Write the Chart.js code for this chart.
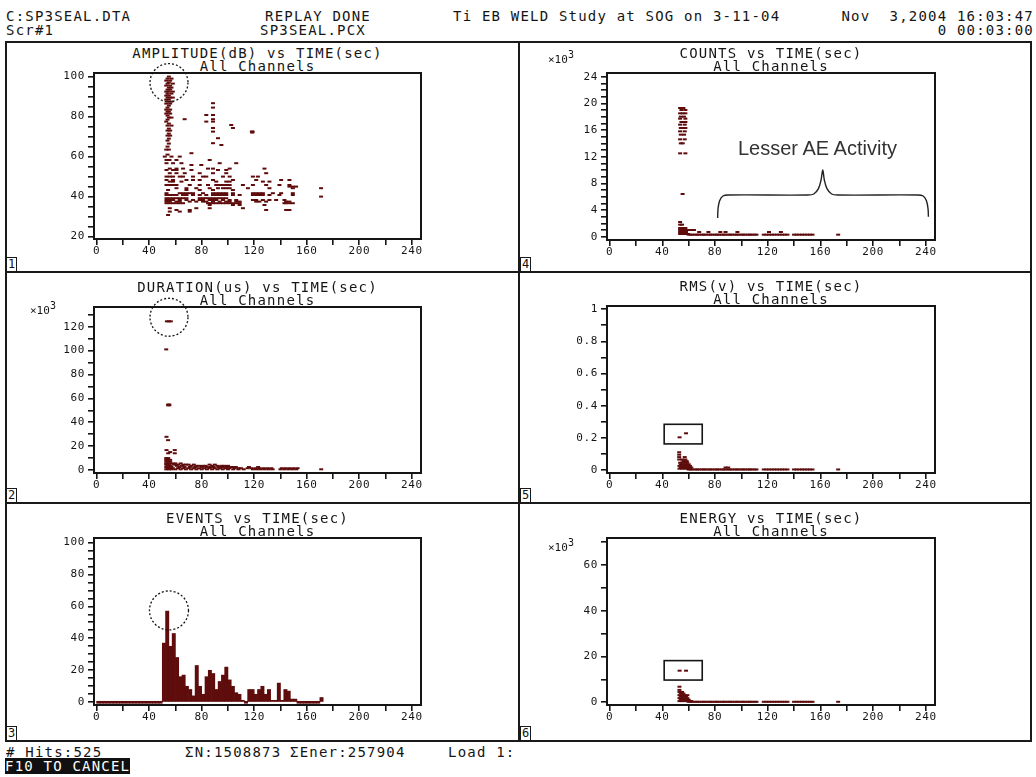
<!DOCTYPE html>
<html>
<head>
<meta charset="utf-8">
<script src="https://cdn.jsdelivr.net/npm/chart.js@4.4.1/dist/chart.umd.min.js"></script>
<style>
html, body { margin: 0; padding: 0; background: #fff; }
body { width: 1036px; height: 777px; position: relative; overflow: hidden; font-family: 'DejaVu Sans Mono', monospace; color: #151515; }
.t { position: absolute; font-size: 14px; line-height: 14px; letter-spacing: 1.2px; white-space: pre; }
.c { text-align: center; }
.r { text-align: right; }
canvas { position: absolute; left: 0; top: 0; }
.ln { position: absolute; background: #1a1a1a; }
.num { position: absolute; width: 9px; height: 13px; border: 1px solid #1a1a1a; font-size: 12px; line-height: 13px; text-align: center; background: #fff; }
.exp { position: absolute; font-size: 11px; line-height: 11px; white-space: pre; }
.exp sup { font-size: 10px; vertical-align: 5px; }
.ae { position: absolute; font-family: 'Liberation Sans', Arial, sans-serif; font-size: 20px; color: #333; white-space: pre; }
.f10 { background: #111; color: #fff; }
</style>
</head>
<body>
<div class="t" style="left:6px;top:9px">C:SP3SEAL.DTA</div>
<div class="t" style="left:265px;top:9px">REPLAY DONE</div>
<div class="t" style="left:453px;top:9px">Ti EB WELD Study at SOG on 3-11-04</div>
<div class="t r" style="right:2px;top:9px">Nov  3,2004 16:03:47</div>
<div class="t" style="left:6px;top:23px">Scr#1</div>
<div class="t" style="left:260px;top:23px">SP3SEAL.PCX</div>
<div class="t r" style="right:2px;top:23px">0 00:03:00</div>

<div class="t" style="left:6px;top:745px"># Hits:525</div>
<div class="t" style="left:185px;top:745px">ΣN:1508873</div>
<div class="t" style="left:290px;top:745px">ΣEner:257904</div>
<div class="t" style="left:448px;top:745px">Load 1:</div>
<div class="t" style="left:5px;top:759px"><span class="f10">F10 TO CANCEL</span></div>

<script>
// time axis (sec), shared by all six panels
const xTicks = [0, 20, 40, 60, 80, 100, 120, 140, 160, 180, 200, 220, 240];
const xLabels = [0, 40, 80, 120, 160, 200, 240];

// AMPLITUDE(dB): [dB, [times]]
const ampRows = [
  [100, [55]], [99, [54, 57]], [98, [53, 56]], [97, [55]], [96.5, [54, 58]], [95.5, [53, 56]],
  [94.5, [55, 57]], [93.5, [54, 56]], [92.5, [53, 55, 58]], [91.5, [54, 57]], [90.5, [53, 55]],
  [89.5, [54, 56, 58]], [88.5, [53, 55]], [87.5, [54, 57]], [86.7, [88.6]], [86.5, [53, 56]],
  [85.5, [55]], [84.5, [54, 88.6]], [83.5, [53, 56]], [82.5, [54, 55]], [81.5, [53, 56]],
  [80.8, [83.5, 88.6]], [80.5, [54]], [79.5, [55, 57]], [78.7, [67, 88.6]], [78.5, [54]],
  [77.5, [53, 83.5, 88.6]], [76.5, [55]], [75.8, [102.5]], [75.5, [54, 57]], [74.3, [88.6, 103.8]],
  [74, [55]], [73, [54, 56]], [72.5, [88.6, 118.2, 118.8]], [72, [118.5]], [71.5, [55]], [70.5, [54, 56]],
  [69.2, [92.4]], [69, [55]], [68, [54]], [66.7, [88.6]], [66.5, [55]], [65.8, [95]], [65, [54]],
  [63.5, [53, 55]], [61.7, [72.2]], [61, [54]],
  [60, [51.9, 57, 63.3]], [58.3, [53.2, 55.5, 60.8, 86.1]], [56.7, [53.2, 58.2, 64.6, 93.7, 106.3]],
  [55.8, [72.2, 79.7]], [54, [55.7, 60.8, 65.8, 84.8, 88.6, 101.3, 127.8]],
  [53.3, [53.2, 58.2, 60.8, 72.2, 92.4, 98.7]], [51.7, [55.7, 60.8, 67.1, 78.5, 88.6, 98.7, 129.1]],
  [50, [53.2, 55.7, 58.2, 63.3, 65.8, 73.4, 81, 83.5, 96.2, 101.3, 119, 122.8]],
  [48.3, [53.2, 58.2, 68.4, 73.4, 78.5, 88.6, 103.8, 121.5, 140.5, 146.8]],
  [47.5, [55.7, 58.2, 64.6, 91.1, 98.7, 101.3, 126.6, 131.6]],
  [45.8, [53.2, 55.7, 58.2, 60.8, 70.9, 78.5, 84.8, 91.1, 93.7, 96.2, 98.7, 101.3, 111.4, 119, 129.1, 139.2, 146.8]],
  [45, [146.8, 149.4, 151.9]],
  [44.2, [60.8, 68.4, 75.9, 86.1, 92.4, 96.2, 98.7, 101.3, 115.2, 131.6, 149.4, 170.9]],
  [43.3, [54.4, 68.4, 78.5, 88.6, 103.8]],
  [41.7, [53.2, 63.3, 65.8, 68.4, 70.9, 73.4, 81, 88.6, 91.1, 93.7, 96.2, 98.7, 103.8, 119, 121.5, 124, 126.6, 134.2, 140.5, 149.4]],
  [40.8, [53.2, 55.7, 58.2, 60.8, 65.8, 68.4, 73.4, 78.5, 83.5, 88.6, 91.1, 93.7, 96.2, 98.7, 103.8, 108.9, 119, 121.5, 124, 126.6, 131.6, 139.2, 149.4]],
  [40, [170.9]],
  [39.2, [53.2, 55.7, 58.2, 60.8, 63.3, 65.8, 68.4, 78.5, 81, 83.5, 86.1, 88.6, 91.1, 93.7, 96.2, 98.7]],
  [38.3, [53.2, 55.7, 58.2, 63.3, 68.4, 73.4, 78.5, 81, 86.1, 88.6, 91.1, 96.2, 101.3, 106.3, 119, 121.5, 126.6, 131.6, 136.7, 143]],
  [37.5, [53.2, 55.7, 60.8, 63.3, 70.9, 75.9, 81, 83.5, 88.6, 93.7, 98.7, 101.3, 106.3, 108.9, 121.5, 124, 129.1, 144.3, 146.8]],
  [36.7, [53.2, 55.7, 58.2, 60.8, 63.3, 65.8, 84.8, 86.1, 88.6, 91.1, 93.7, 96.2, 98.7, 101.3, 103.8, 106.3, 108.9, 143, 144.3, 146.8, 149.4]],
  [35.8, [86.1, 103.8, 108.9, 127.8]],
  [34.2, [55.7, 75.9, 86.1, 111.4]],
  [33.3, [60.8, 70.9, 129.1, 144.3, 146.8]],
  [32.5, [55.7, 63.3, 70.9]],
  [30.8, [54.4]]
];

// low-level hits after the burst (sec), seen in COUNTS, RMS and ENERGY
const tailTimes = [60, 61.5, 63, 65, 66.5, 68, 70, 71.5, 73, 75, 76.5, 78, 80, 81.5, 83, 85, 86.5, 88, 90, 91.5,
  93, 95, 96.5, 98, 100, 101.5, 103, 105, 106.5, 108, 110, 111.5, 117, 119, 121, 123, 125, 127, 129, 131,
  133, 135, 140, 142, 144, 146, 148, 150, 152, 154, 173.5];

// COUNTS (x10^3)
const cntRows = [
  [19.3, [53.5, 56]], [19, [54.5, 57.5]], [18.5, [53.5, 55.5, 57.5]], [18, [54, 56.5]],
  [17.7, [53.5, 57.5]], [17.2, [54.5, 56, 57.5]], [16.8, [53.5, 57]], [16.3, [54, 56, 57.5]],
  [15.8, [53.5, 57]], [15.3, [54, 56.5]], [14.6, [53.5, 57]], [14, [54, 55.5]],
  [12.5, [53.5, 57.5]], [6.4, [55.4]],
  [2.2, [53.5]], [1.8, [53.5, 55]], [1.3, [53.5, 56, 57.5]], [1, [53.5, 55, 57, 58.5, 61, 64]],
  [0.7, [53.5, 55, 56.5, 58, 68, 75, 84, 88, 97, 121, 130]], [0.4, [53.5, 55, 56.5, 58, 59.5]]
];
const cntTail = 0.3;

// DURATION (x10^3 us)
const durRows = [
  [124.5, [53.5, 55, 56.5]], [101, [53]], [54.8, [54.5, 55.3]], [54.2, [54.5, 55.3]],
  [27.8, [53.2]], [25, [54.4]], [16.7, [53.2, 59.5]], [15, [56]], [14, [54.5, 59.5]],
  [10, [53, 54.5]], [8.5, [53, 54.5, 56]], [7, [53, 54.5, 56]], [5.5, [53, 54.5, 56, 58, 60, 64]],
  [4.5, [53, 55, 59, 62, 66, 68, 70, 74, 86, 90]],
  [3.5, [54, 56, 61, 65, 72, 76, 78, 81, 83, 88, 92, 95, 97, 100]],
  [2.5, [53, 55, 57, 63, 67, 71, 75, 80, 84, 87, 89, 93, 96, 99, 102, 104, 106, 116, 123]],
  [1.5, [54, 56, 58, 62, 66, 70, 74, 78, 82, 86, 90, 94, 98, 101, 105, 108, 110, 115, 118, 121, 124, 127, 130, 133, 141, 144, 147, 150, 153]],
  [0.6, [53, 55, 57, 60, 64, 68, 72, 76, 80, 84, 88, 92, 96, 100, 104, 108, 112, 119, 122, 125, 128, 131, 134, 140, 143, 146, 149, 152, 171]]
];

// RMS (v)
const rmsRows = [
  [0.228, [58]], [0.203, [53.1]],
  [0.11, [52.8]], [0.095, [52.8]], [0.08, [52.8, 57]], [0.065, [52.8, 55, 57.5]],
  [0.055, [56, 58.5]], [0.045, [53.5, 55, 57, 59]], [0.035, [54, 56, 58, 60]],
  [0.025, [53, 55, 57, 59, 61]], [0.015, [54, 56, 58, 60, 62, 88, 90]], [0.008, [53, 55, 57, 59, 61]]
];
const rmsTail = 0.003;

// ENERGY (x10^3)
const eneRows = [
  [13.8, [53.1, 58]], [6.8, [53]], [5.4, [53]], [4.5, [53, 55]], [3.8, [54, 56]],
  [3.1, [53, 55, 57, 59]], [2.5, [54, 56, 58]], [1.8, [53, 55, 57, 59]], [1.1, [54, 56, 58, 60]],
  [0.5, [53, 55, 57, 59, 61, 62]]
];
const eneTail = 0.2;

// EVENTS per 2.5 s bin, from 0 s
const binWidth = 2.5;
const eventBins = [0, 0, 0, 0, 0, 0, 0, 0, 0, 0, 0, 0, 0, 0, 0, 0, 0, 0, 0, 0,
  37, 57, 35, 43, 28, 16, 17, 10, 8, 4, 23, 10, 5, 16, 20, 18, 8, 13, 17, 22,
  14, 10, 6, 5, 1, 0, 8, 8, 5, 8, 10, 5, 8, 1, 1, 12, 1, 8, 7, 2,
  2, 0, 0, 0, 0, 0, 0, 0, 3];

// brace over the "Lesser AE Activity" region (sec, x10^3 counts)
const braceX = [82, 82.3, 83.5, 86, 90, 150, 155, 158.5, 160.5, 161.8, 163, 165, 168.5, 173.5, 234, 238, 240.5, 241.7, 242];
const braceY = [2.8, 4.2, 5.4, 6.1, 6.25, 6.25, 6.4, 7.2, 8.5, 10, 8.5, 7.2, 6.4, 6.25, 6.25, 6.1, 5.4, 4.2, 3];

const MARK = '#5e0c0c';
const FONT = { family: 'DejaVu Sans Mono', size: 11 };

function rowsToPts(rows) {
  const out = [];
  rows.forEach(([v, ts]) => ts.forEach(t => out.push({ x: t, y: v })));
  return out;
}
function tailPts(level) { return tailTimes.map(t => ({ x: t, y: level })); }

function dots(data) {
  return { data, pointStyle: 'line', pointRadius: 2, pointHoverRadius: 2, borderWidth: 2,
           borderColor: MARK, backgroundColor: MARK };
}

const panels = [
  { title: 'AMPLITUDE(dB) vs TIME(sec)', n: '1', box: [94, 73, 421, 239], yMin: 18.8, yMax: 101.8,
    yTicks: [20, 25, 30, 35, 40, 45, 50, 55, 60, 65, 70, 75, 80, 85, 90, 95, 100], yLabels: [20, 40, 60, 80, 100],
    type: 'scatter', datasets: [dots(rowsToPts(ampRows))], circles: [{ x: 55.1, y: 97, r: 19 }] },
  { title: 'DURATION(us) vs TIME(sec)', n: '2', box: [94, 307, 421, 473], yMin: -2.5, yMax: 136.5,
    yTicks: [0, 10, 20, 30, 40, 50, 60, 70, 80, 90, 100, 110, 120, 130], yLabels: [0, 20, 40, 60, 80, 100, 120],
    exp: [30, 300], type: 'scatter', datasets: [dots(rowsToPts(durRows))], circles: [{ x: 55.1, y: 127.9, r: 19 }] },
  { title: 'EVENTS vs TIME(sec)', n: '3', box: [94, 538, 421, 705], yMin: -1.7, yMax: 102.7,
    yTicks: [0, 5, 10, 15, 20, 25, 30, 35, 40, 45, 50, 55, 60, 65, 70, 75, 80, 85, 90, 95, 100], yLabels: [0, 20, 40, 60, 80, 100],
    type: 'bar', datasets: [{
      data: eventBins.map((v, i) => ({ x: i * binWidth + binWidth / 2, y: v })),
      backgroundColor: MARK, borderWidth: 0, barPercentage: 1, categoryPercentage: 1, minBarLength: 2, grouped: false
    }], circles: [{ x: 55.1, y: 57.4, r: 19.5 }] },
  { title: 'COUNTS vs TIME(sec)', n: '4', box: [607, 73, 935, 240], yMin: -0.5, yMax: 24.55,
    yTicks: [0, 1, 2, 3, 4, 5, 6, 7, 8, 9, 10, 11, 12, 13, 14, 15, 16, 17, 18, 19, 20, 21, 22, 23, 24], yLabels: [0, 4, 8, 12, 16, 20, 24],
    exp: [548, 49], type: 'scatter', datasets: [
      dots(rowsToPts(cntRows).concat(tailPts(cntTail))),
      { data: braceX.map((x, i) => ({ x, y: braceY[i] })), showLine: true, pointRadius: 0, borderColor: '#222',
        borderWidth: 1.4, tension: 0.35 }
    ] },
  { title: 'RMS(v) vs TIME(sec)', n: '5', box: [607, 306, 935, 473], yMin: -0.019, yMax: 1.02,
    yTicks: [0, 0.1, 0.2, 0.3, 0.4, 0.5, 0.6, 0.7, 0.8, 0.9, 1], yLabels: [0, 0.2, 0.4, 0.6, 0.8, 1],
    type: 'scatter', datasets: [dots(rowsToPts(rmsRows).concat(tailPts(rmsTail)))],
    rects: [{ x0: 41.4, y0: 0.284, x1: 70.3, y1: 0.162 }] },
  { title: 'ENERGY vs TIME(sec)', n: '6', box: [607, 538, 935, 705], yMin: -1.2, yMax: 71.8,
    yTicks: [0, 10, 20, 30, 40, 50, 60, 70], yLabels: [0, 20, 40, 60],
    exp: [548, 537], type: 'scatter', datasets: [dots(rowsToPts(eneRows).concat(tailPts(eneTail)))],
    rects: [{ x0: 41.4, y0: 18.2, x1: 70.3, y1: 9.7 }] }
];

const boxPlugin = {
  id: 'box',
  beforeDraw(chart) { chart.ctx.letterSpacing = '0.6px'; },
  afterDatasetsDraw(chart, args, opts) {
    const { ctx, chartArea: a, scales } = chart;
    ctx.save();
    ctx.strokeStyle = '#151515';
    ctx.lineWidth = 2;
    ctx.strokeRect(a.left, a.top, a.right - a.left, a.bottom - a.top);
    ctx.lineWidth = 1.3;
    ctx.setLineDash([2, 2]);
    (opts.circles || []).forEach(c => {
      ctx.beginPath();
      ctx.arc(scales.x.getPixelForValue(c.x), scales.y.getPixelForValue(c.y), c.r, 0, Math.PI * 2);
      ctx.stroke();
    });
    ctx.setLineDash([]);
    ctx.lineWidth = 1.6;
    (opts.rects || []).forEach(r => {
      const x0 = scales.x.getPixelForValue(r.x0), x1 = scales.x.getPixelForValue(r.x1);
      const y0 = scales.y.getPixelForValue(r.y0), y1 = scales.y.getPixelForValue(r.y1);
      ctx.strokeRect(x0, y0, x1 - x0, y1 - y0);
    });
    ctx.restore();
  }
};

const YW = 40, XH = 22;

function addDiv(cls, style, html) {
  const d = document.createElement('div');
  d.className = cls;
  d.style.cssText = style;
  d.innerHTML = html;
  document.body.appendChild(d);
}

// panel frame
addDiv('ln', 'left:5px;top:41px;width:1027px;height:2px', '');
addDiv('ln', 'left:5px;top:740px;width:1027px;height:2px', '');
addDiv('ln', 'left:5px;top:41px;width:2px;height:701px', '');
addDiv('ln', 'left:1030px;top:41px;width:2px;height:701px', '');
addDiv('ln', 'left:518px;top:41px;width:2px;height:701px', '');
addDiv('ln', 'left:5px;top:271px;width:1027px;height:2px', '');
addDiv('ln', 'left:5px;top:502px;width:1027px;height:2px', '');

const panelBottoms = { '1': 272, '2': 503, '3': 741, '4': 272, '5': 503, '6': 741 };

panels.forEach(p => {
  const [l, t, r, b] = p.box;
  addDiv('t c', `left:${l}px;width:${r - l}px;top:${t - 27}px`, p.title);
  addDiv('t c', `left:${l}px;width:${r - l}px;top:${t - 14}px`, 'All Channels');
  const px = l < 500 ? 6 : 520;
  addDiv('num', `left:${px}px;top:${panelBottoms[p.n] - 15}px`, p.n);
  if (p.exp) addDiv('exp', `left:${p.exp[0]}px;top:${p.exp[1]}px`, '×10<sup>3</sup>');

  const cv = document.createElement('canvas');
  cv.width = 1036; cv.height = 777;
  document.body.appendChild(cv);
  new Chart(cv, {
    type: p.type,
    data: { datasets: p.datasets },
    options: {
      responsive: false, animation: false, devicePixelRatio: 1, events: [],
      layout: { padding: { left: l - YW, top: t, right: 1036 - r, bottom: 777 - b - XH } },
      plugins: { legend: { display: false }, tooltip: { enabled: false }, box: { circles: p.circles, rects: p.rects } },
      scales: {
        x: {
          type: 'linear', min: -2, max: 247, offset: false,
          afterBuildTicks: a => { a.ticks = xTicks.map(v => ({ value: v })); },
          afterFit: s => { s.height = XH; },
          ticks: { callback: v => xLabels.includes(v) ? String(v) : '', font: FONT, color: '#151515',
                   padding: 0, maxRotation: 0, autoSkip: false },
          grid: { drawOnChartArea: false, drawTicks: true, tickLength: 6, color: '#151515', lineWidth: 1.6, offset: false },
          border: { display: false }
        },
        y: {
          type: 'linear', min: p.yMin, max: p.yMax,
          afterBuildTicks: a => { a.ticks = p.yTicks.map(v => ({ value: v })); },
          afterFit: s => { s.width = YW; },
          ticks: { callback: v => p.yLabels.includes(v) ? String(v) : '', font: FONT, color: '#151515',
                   padding: 3, autoSkip: false },
          grid: { drawOnChartArea: false, drawTicks: true, tickLength: 6, color: '#151515', lineWidth: 1.6 },
          border: { display: false }
        }
      }
    },
    plugins: [boxPlugin]
  });
});

addDiv('ae', 'left:738px;top:137px', 'Lesser AE Activity');
</script>
</body>
</html>
